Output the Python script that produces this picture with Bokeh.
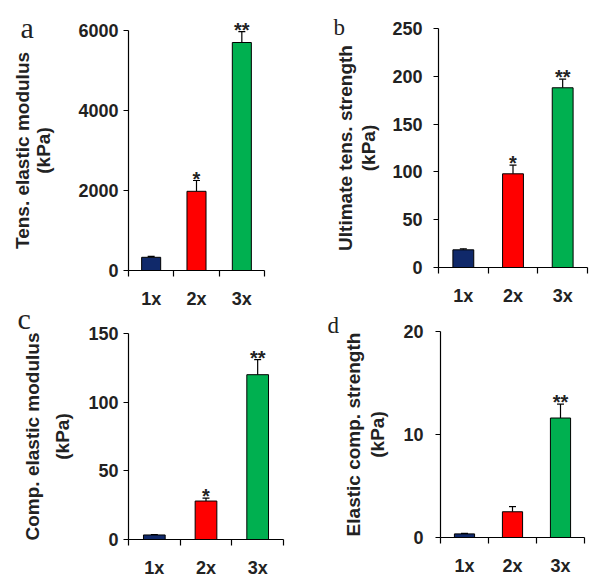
from bokeh.plotting import figure
from bokeh.models import (ColumnDataSource, Range1d, FixedTicker, Whisker, TeeHead, Label,
                          LinearAxis)
from bokeh.core.properties import value
from bokeh.embed import file_html
from bokeh.resources import INLINE

# ---------------- data ----------------
groups = ["1x", "2x", "3x"]
bar_colors = ["#10296a", "#ff0000", "#00b050"]

tens_modulus = [330, 1980, 5700]
tens_modulus_err = [25, 270, 270]
tens_modulus_sig = ["", "*", "**"]
tens_modulus_ticks = [0, 2000, 4000, 6000]

ult_strength = [18.5, 98, 188]
ult_strength_err = [1.0, 9, 9]
ult_strength_sig = ["", "*", "**"]
ult_strength_ticks = [0, 50, 100, 150, 200, 250]

comp_modulus = [3.3, 28, 120]
comp_modulus_err = [0.3, 2.2, 11]
comp_modulus_sig = ["", "*", "**"]
comp_modulus_ticks = [0, 50, 100, 150]

comp_strength = [0.35, 2.5, 11.6]
comp_strength_err = [0.05, 0.5, 1.35]
comp_strength_sig = ["", "", "**"]
comp_strength_ticks = [0, 10, 20]

FONT = "Liberation Sans"
SERIF = "Liberation Serif"
W, H = 593, 578

# one canvas; main ranges are pixel coordinates (y down) used for panel letters
p = figure(width=W, height=H, output_backend="svg", toolbar_location=None,
           x_range=Range1d(0, W), y_range=Range1d(H, 0),
           x_axis_type=None, y_axis_type=None,
           min_border_left=0, min_border_right=0, min_border_top=0, min_border_bottom=0)
p.outline_line_color = None
p.background_fill_color = "white"
p.border_fill_color = "white"


def panel(name, vals, errs, sig, ticks, ylabel, box, tick_standoff, label_standoff, label_lh):
    """box = (x of value-axis, x of last boundary tick, y of zero, y of top tick) in canvas px"""
    ax0, ax1, y0, ytop = box
    n = len(groups)
    ppu = (ax1 - ax0) / n
    ppv = (y0 - ytop) / ticks[-1]
    p.extra_x_ranges[name] = Range1d(-ax0 / ppu, (W - ax0) / ppu)
    p.extra_y_ranges[name] = Range1d(-(H - y0) / ppv, y0 / ppv)
    rn = dict(x_range_name=name, y_range_name=name)

    xs = [i + 0.5 for i in range(n)]
    src = ColumnDataSource(dict(
        x=xs, top=vals, upper=[v + e for v, e in zip(vals, errs)],
        color=bar_colors, sig=sig))
    p.vbar(x="x", top="top", width=0.42, fill_color="color", line_color="black",
           line_width=1, source=src, **rn)
    p.add_layout(Whisker(source=src, base="x", lower="top", upper="upper", dimension="height",
                         line_color="black", line_width=1.2,
                         upper_head=TeeHead(size=7, line_color="black", line_width=1.2),
                         lower_head=None, **rn))
    p.text(x="x", y="upper", text="sig", source=src, text_align="center",
           text_baseline="alphabetic", y_offset=-2, text_font=value(FONT),
           text_font_style="bold", text_font_size="20px", text_color="#222222", **rn)

    # x axis: labels at bar centres, tick marks at group boundaries
    xa = LinearAxis(fixed_location=0, bounds=(0, n),
                    ticker=FixedTicker(ticks=xs, minor_ticks=list(range(n + 1))),
                    major_label_overrides={x: g for x, g in zip(xs, groups)}, **rn)
    xa.major_tick_out = 0
    xa.major_tick_in = 0
    xa.minor_tick_out = 6
    xa.minor_tick_in = 0
    xa.minor_tick_line_color = "black"
    xa.minor_tick_line_width = 1.2
    xa.axis_line_color = "black"
    xa.axis_line_width = 1.2
    xa.major_label_standoff = 12
    xa.major_label_text_font = FONT
    xa.major_label_text_font_style = "bold"
    xa.major_label_text_font_size = "18px"
    xa.major_label_text_color = "#222222"
    p.add_layout(xa, "below")

    ya = LinearAxis(fixed_location=0, bounds=(0, ticks[-1]),
                    ticker=FixedTicker(ticks=ticks, minor_ticks=[]), **rn)
    ya.major_tick_out = 5
    ya.major_tick_in = 0
    ya.major_tick_line_color = "black"
    ya.major_tick_line_width = 1.2
    ya.axis_line_color = "black"
    ya.axis_line_width = 1.2
    ya.major_label_standoff = tick_standoff
    ya.major_label_text_font = FONT
    ya.major_label_text_font_style = "bold"
    ya.major_label_text_font_size = "18px"
    ya.major_label_text_color = "#222222"
    ya.axis_label = ylabel
    ya.axis_label_text_font = FONT
    ya.axis_label_text_font_style = "bold"
    ya.axis_label_text_font_size = "19px"
    ya.axis_label_text_color = "#222222"
    ya.axis_label_text_line_height = label_lh
    ya.axis_label_standoff = label_standoff
    p.add_layout(ya, "left")


panel("a", tens_modulus, tens_modulus_err, tens_modulus_sig, tens_modulus_ticks,
      "Tens. elastic modulus\n(kPa)", (128, 264, 270, 30), 5, 21, 1.0)
panel("b", ult_strength, ult_strength_err, ult_strength_sig, ult_strength_ticks,
      "Ultimate tens. strength\n(kPa)", (438, 587, 267, 28), 11, 10, 1.1)
panel("c", comp_modulus, comp_modulus_err, comp_modulus_sig, comp_modulus_ticks,
      "Comp. elastic modulus\n(kPa)", (128, 283, 539, 333), 5, 12, 1.45)
panel("d", comp_strength, comp_strength_err, comp_strength_sig, comp_strength_ticks,
      "Elastic comp. strength\n(kPa)", (440, 584, 537, 331), 12, 12, 1.15)

# panel letters (serif), positioned in canvas pixels
for letter, lx, ly, size in [("a", 20, 27, "30px"), ("b", 333, 27, "23px"),
                             ("c", 17, 318, "30px"), ("d", 327, 325, "23px")]:
    p.add_layout(Label(x=lx, y=ly, text=letter, text_font=SERIF, text_font_size=size,
                       text_color="#222222", text_baseline="alphabetic"))

open("out.html", "w").write(file_html(p, INLINE))
